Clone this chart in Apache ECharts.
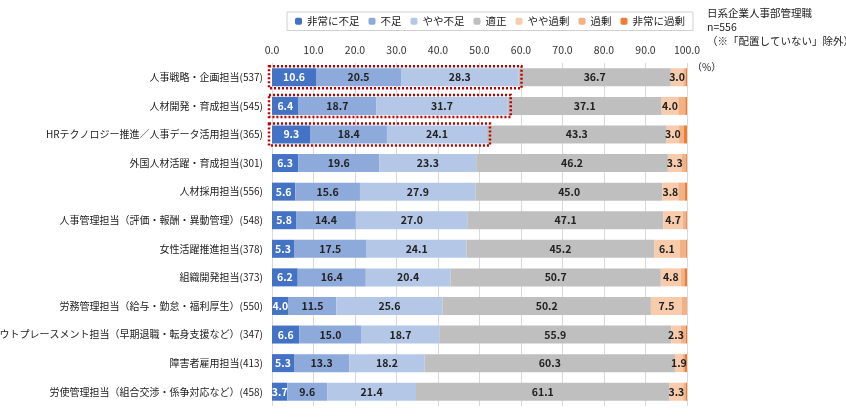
<!DOCTYPE html>
<html><head><meta charset="utf-8">
<script src="https://cdn.jsdelivr.net/npm/echarts@6/dist/echarts.min.js"></script>
<style>html,body{margin:0;background:#fff}#c{width:846px;height:420px}</style>
</head><body><div id="c"></div>
<script>
const categories = ['人事戦略・企画担当(537)','人材開発・育成担当(545)','HRテクノロジー推進／人事データ活用担当(365)','外国人材活躍・育成担当(301)','人材採用担当(556)','人事管理担当（評価・報酬・異動管理）(548)','女性活躍推進担当(378)','組織開発担当(373)','労務管理担当（給与・勤怠・福利厚生）(550)','アウトプレースメント担当（早期退職・転身支援など）(347)','障害者雇用担当(413)','労使管理担当（組合交渉・係争対応など）(458)'];
const seriesNames = ['非常に不足','不足','やや不足','適正','やや過剰','過剰','非常に過剰'];
const hijouFusoku = [10.6,6.4,9.3,6.3,5.6,5.8,5.3,6.2,4.0,6.6,5.3,3.7];
const fusoku = [20.5,18.7,18.4,19.6,15.6,14.4,17.5,16.4,11.5,15.0,13.3,9.6];
const yayaFusoku = [28.3,31.7,24.1,23.3,27.9,27.0,24.1,20.4,25.6,18.7,18.2,21.4];
const tekisei = [36.7,37.1,43.3,46.2,45.0,47.1,45.2,50.7,50.2,55.9,60.3,61.1];
const yayaKajou = [3.0,4.0,3.0,3.3,3.8,4.7,6.1,4.8,7.5,2.3,1.9,3.3];
const kajou = [0.6,1.7,1.1,1.1,1.6,0.8,1.6,0.9,1.1,1.2,0.4,0.6];
const hijouKajou = [0.3,0.4,0.8,0.2,0.5,0.2,0.2,0.6,0.1,0.3,0.6,0.3];
const xTicks = [0,10,20,30,40,50,60,70,80,90,100];
const highlightRows = [0,1,2];

const data = [hijouFusoku,fusoku,yayaFusoku,tekisei,yayaKajou,kajou,hijouKajou];
const colors = ['#4472c4','#8eaadb','#b4c7e7','#bfbfbf','#f8cbad','#f4b183','#ed7d31'];
const chart = echarts.init(document.getElementById('c'));
const font = '"Noto Sans CJK JP", "Noto Sans", sans-serif';
chart.setOption({
  animation:false,
  textStyle:{fontFamily:font},
  legend:{top:12,left:287,itemWidth:7,itemHeight:7,itemGap:9,
    textStyle:{fontSize:10.5,color:'#222',fontFamily:font},
    borderColor:'#d0d0d0',borderWidth:1,padding:[4,8],data:seriesNames},
  grid:{left:272,right:159,top:63,bottom:14,outerBoundsMode:'none',containLabel:false},
  xAxis:{type:'value',min:0,max:100,interval:10,position:'top',
    axisLabel:{formatter:v=>v.toFixed(1),fontSize:10.5,color:'#333',margin:8},
    splitLine:{lineStyle:{color:'#d9d9d9'}},axisLine:{show:false},axisTick:{show:false}},
  yAxis:{type:'category',inverse:true,data:categories,
    axisLabel:{fontSize:10,color:'#222',margin:9},axisLine:{show:false},axisTick:{show:false}},
  series:data.map((d,i)=>({name:seriesNames[i],type:'bar',stack:'s',barWidth:18,data:d,
    itemStyle:{color:colors[i]},
    label:{show:i<5,position:'inside',formatter:p=>p.value.toFixed(1),
      fontSize:10.5,fontWeight:'bold',color:i===0?'#fff':'#222'}}))
});
const ys = [];
highlightRows.forEach(r=>{
  const end = hijouFusoku[r]+fusoku[r]+yayaFusoku[r];
  const p0 = chart.convertToPixel({gridIndex:0},[0,categories[r]]);
  const p1 = chart.convertToPixel({gridIndex:0},[end,categories[r]]);
  ys.push({type:'rect',shape:{x:p0[0]-3,y:p0[1]-11,width:p1[0]-p0[0]+6,height:22},
    style:{fill:'none',stroke:'#c00000',lineWidth:2.5,lineDash:[2,2]},z:100});
});
chart.setOption({graphic:ys.concat([
  {type:'text',left:707,top:6,style:{text:'日系企業人事部管理職\nn=556\n（※「配置していない」除外）',fontSize:10.5,lineHeight:14,fill:'#222',fontFamily:font}},
  {type:'text',left:692,top:62,style:{text:'（%）',fontSize:10,fill:'#222',fontFamily:font}}
])});
</script></body></html>
